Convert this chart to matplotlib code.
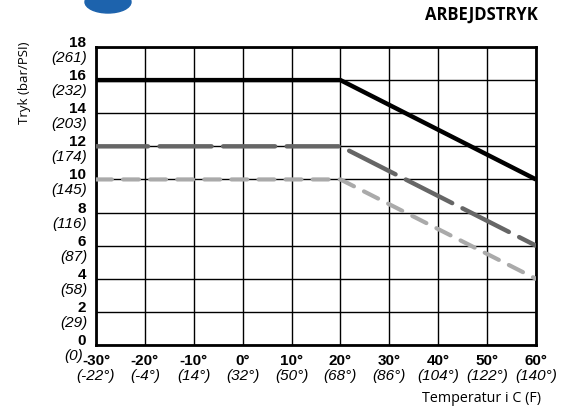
import matplotlib
matplotlib.use("Agg")
import matplotlib.pyplot as plt
from matplotlib.patches import Ellipse
from matplotlib.transforms import blended_transform_factory, offset_copy

# temperature axis
temps_c = [-30, -20, -10, 0, 10, 20, 30, 40, 50, 60]
temps_f = ["(-22°)", "(-4°)", "(14°)", "(32°)", "(50°)", "(68°)",
           "(86°)", "(104°)", "(122°)", "(140°)"]

# pressure axis
press_bar = [0, 2, 4, 6, 8, 10, 12, 14, 16, 18]
press_psi = ["(0)", "(29)", "(58)", "(87)", "(116)", "(145)",
             "(174)", "(203)", "(232)", "(261)"]

# curves (bar vs °C)
curve_x = [-30, 20, 60]
curve_black = [16, 16, 10]
curve_dark = [12, 12, 6]
curve_light = [10, 10, 4]

W, H = 574, 408
fig = plt.figure(figsize=(W / 100, H / 100), dpi=100)
ax = fig.add_axes([96 / W, 1 - 345 / H, 440 / W, 298 / H])

ax.set_xlim(-30, 60)
ax.set_ylim(0, 18)
ax.set_xticks(temps_c)
ax.set_yticks(press_bar)
ax.tick_params(length=0, labelbottom=False, labelleft=False)
ax.grid(True, color="black", lw=1.0)
ax.set_axisbelow(True)
for s in ax.spines.values():
    s.set_linewidth(2.0)

ax.plot(curve_x, curve_black, color="black", lw=3.2, solid_capstyle="butt", zorder=3)
ax.plot(curve_x, curve_dark, color="#666666", lw=3.2, dashes=(11.7, 2.6),
        dash_capstyle="round", zorder=3)
ax.plot(curve_x, curve_light, color="#aaaaaa", lw=3.0, dashes=(3.8, 2.7),
        dash_capstyle="round", zorder=3)

bold = dict(family="Liberation Sans", weight="bold", size=11)
ital = dict(family="Liberation Sans", style="italic", size=11)

# y tick labels: value above, psi below
ty = blended_transform_factory(ax.transAxes, ax.transData)
for v, p in zip(press_bar, press_psi):
    ax.text(-0.02, v, str(v), transform=offset_copy(ty, fig, x=-1, y=4, units="dots"),
            ha="right", va="center", **bold)
    dx = -4 if v == 0 else 0  # keep "(0)" clear of "-30°"
    ax.text(-0.02, v, p, transform=offset_copy(ty, fig, x=dx, y=-11, units="dots"),
            ha="right", va="center", **ital)

# x tick labels: °C above, °F below
tx = blended_transform_factory(ax.transData, ax.transAxes)
for c, f in zip(temps_c, temps_f):
    ax.text(c, 0, f"{c}°", transform=offset_copy(tx, fig, y=-16, units="dots"),
            ha="center", va="center", **bold)
    ax.text(c, 0, f, transform=offset_copy(tx, fig, y=-31, units="dots"),
            ha="center", va="center", **ital)

fig.text(25 / W, 1 - 42 / H, "Tryk (bar/PSI)", rotation=90, ha="center", va="top",
         family="Open Sans", size=9.5)
fig.text(538 / W, 1 - 15 / H, "ARBEJDSTRYK", ha="right", va="center",
         family="Open Sans", weight="bold", size=12)
fig.text(541 / W, 1 - 398 / H, "Temperatur i C (F)", ha="right", va="center",
         family="Open Sans", size=10.3)

# partial logo at the top edge
fig.patches.append(Ellipse((108 / W, 1 - 2 / H), 46 / W, 22 / H,
                           transform=fig.transFigure, color="#1d63ad"))

fig.savefig("out.png", dpi=100)
